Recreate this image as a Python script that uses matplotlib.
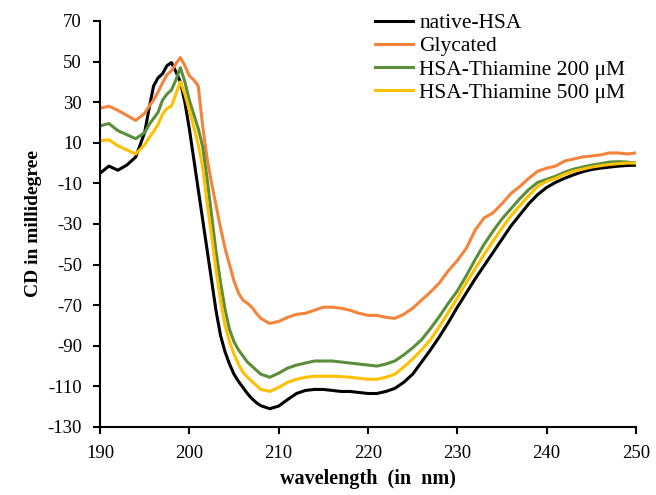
import matplotlib
matplotlib.use("Agg")
import matplotlib.pyplot as plt

# wavelength grid (nm), finer around the 195-208 nm band
wavelength = [190, 191, 192, 193, 194, 195, 195.5, 196, 196.5, 197, 197.5, 198, 198.5,
              199, 199.5, 200, 200.5, 201, 201.5, 202, 202.5, 203, 203.5, 204, 204.5,
              205, 205.5, 206, 206.5, 207, 207.5, 208,
              209, 210, 211, 212, 213, 214, 215, 216, 217, 218, 219, 220, 221, 222,
              223, 224, 225, 226, 227, 228, 229, 230, 231, 232, 233, 234, 235, 236,
              237, 238, 239, 240, 241, 242, 243, 244, 245, 246, 247, 248, 249, 250]

native_hsa = [-5, -1.5, -3.5, -1, 3, 15, 27, 38, 42, 44, 48, 49.5, 45,
              40, 30, 17, 2, -13, -28, -43, -58, -73, -85, -93, -99,
              -104, -107.5, -110.5, -113.5, -116, -118, -119.5,
              -121, -119.7, -116.5, -113.5, -112, -111.5, -111.5, -112, -112.5, -112.5, -113, -113.5, -113.5, -112.5,
              -111, -108, -104, -98, -92, -85.5, -78.5, -71, -64, -57, -50.5, -44, -37.5, -31,
              -25.5, -20, -15.5, -12, -9.5, -7.5, -5.8, -4.3, -3.2, -2.5, -2, -1.5, -1.2, -1]

glycated = [27, 28, 26, 23.5, 21, 24.5, 28, 31, 35, 39.5, 43.5, 45.5, 49,
            52, 48, 43, 41, 38, 18, 2, -10, -21, -32, -42, -50,
            -58, -64, -67.5, -69, -71, -74, -76.5,
            -79, -78, -76, -74.5, -74, -72.5, -71, -71, -71.5, -72.5, -74, -75, -75, -76,
            -76.5, -74.5, -71.5, -67.5, -63.5, -59, -53, -48, -42, -33, -27, -24.5, -20, -15,
            -11.5, -7.5, -4, -2.5, -1.5, 1, 2, 3, 3.5, 4, 5, 5, 4.5, 5]

thiamine_200 = [18.3, 19.5, 16, 14, 12, 15, 19, 22, 25, 31, 34, 36, 41,
                47, 40, 31, 24, 17, 8, -8, -26, -44, -59, -72, -82,
                -88, -92, -95, -98, -100, -102, -104,
                -105.5, -103.5, -101, -99.5, -98.5, -97.5, -97.5, -97.5, -98, -98.5, -99, -99.5, -100, -99,
                -97.5, -94.5, -91, -87, -81.5, -75.5, -69, -63, -55.5, -47.5, -40, -33.5, -27.5, -22.5,
                -17.5, -13, -9.5, -8, -6.5, -4.5, -3, -2, -1, -0.3, 0.5, 0.7, 0.5, 0]

thiamine_500 = [11, 11.5, 8.5, 6.5, 4.5, 9, 12.5, 15.5, 19, 24, 27, 28, 34,
                40, 34, 26, 18, 9, -2, -20, -36, -53, -68, -80, -88,
                -94, -99, -103, -105.5, -107.5, -109.5, -111.5,
                -112.5, -110.5, -108, -106.5, -105.5, -105, -105, -105, -105.2, -105.5, -106, -106.5, -106.5, -105.5,
                -104, -100.5, -96.5, -92, -87, -80.5, -73.5, -66.5, -59, -52, -45, -38.5, -32, -26,
                -21, -16, -11.5, -9, -7.5, -5.5, -4, -3, -2, -1.3, -0.7, -0.3, 0, 0]

labels = ["native-HSA", "Glycated", "HSA-Thiamine 200 \u03bcM", "HSA-Thiamine 500 \u03bcM"]
colors = ["#000000", "#f4843c", "#5a8e3a", "#ffc000"]

plt.rcParams['font.family'] = ['Liberation Serif', 'DejaVu Serif']
plt.rcParams['axes.unicode_minus'] = False

fig = plt.figure(figsize=(6.56, 4.95), dpi=100)
ax = fig.add_axes([0.1524, 0.1374, 0.8171, 0.8202])

for series, lab, col in zip([native_hsa, glycated, thiamine_200, thiamine_500], labels, colors):
    ax.plot(wavelength, series, color=col, lw=2.2, label=lab)

ax.set_xlim(190, 250)
ax.set_ylim(-130, 70)
ax.set_xticks(range(190, 251, 10))
ax.set_yticks(range(-130, 71, 20))

for side in ["top", "right"]:
    ax.spines[side].set_visible(False)
for side in ["left", "bottom"]:
    ax.spines[side].set_linewidth(1.5)

ax.tick_params(axis="both", direction="out", length=5, width=1.5, labelsize=13.5)
ax.tick_params(axis="y", pad=8)
ax.tick_params(axis="x", pad=8)

ax.set_xlabel("wavelength  (in  nm)", fontsize=14.5, fontweight="bold", labelpad=5)
ax.set_ylabel("CD in millidegree", fontsize=14, fontweight="bold", labelpad=4)

ax.legend(loc="upper left", bbox_to_anchor=(375 / 656, 1 - 13 / 495),
          bbox_transform=fig.transFigure, frameon=False, fontsize=15.5,
          handlelength=1.75, handletextpad=0.3, labelspacing=0.15, borderpad=0,
          borderaxespad=0)

fig.savefig("out.png", dpi=100)
